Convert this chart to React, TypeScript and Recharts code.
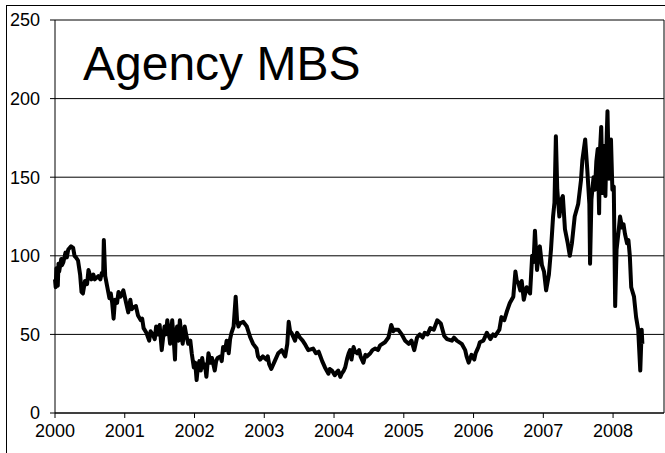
import { CartesianGrid, Line, LineChart, ReferenceLine, XAxis, YAxis } from "recharts";

// Agency MBS spread (decimal year, value)
const Y2000: [number, number][] = [
  [2000.0, 85], [2000.01, 80], [2000.02, 92], [2000.03, 84], [2000.04, 81], [2000.05, 95],
  [2000.06, 90], [2000.09, 98], [2000.1, 94], [2000.12, 96], [2000.15, 102], [2000.17, 99],
  [2000.19, 104], [2000.23, 106], [2000.26, 105], [2000.28, 100], [2000.3, 99], [2000.33, 97],
  [2000.36, 88], [2000.38, 77], [2000.4, 76], [2000.43, 84], [2000.46, 82], [2000.48, 91],
  [2000.52, 85], [2000.55, 88], [2000.57, 85], [2000.62, 87], [2000.65, 85], [2000.67, 89],
  [2000.69, 88], [2000.7, 110], [2000.72, 87], [2000.75, 80], [2000.78, 73], [2000.8, 76],
  [2000.82, 70], [2000.84, 60], [2000.86, 72], [2000.89, 70], [2000.91, 77], [2000.94, 74],
  [2000.98, 78],
];
const Y2001: [number, number][] = [
  [2001.02, 70], [2001.05, 64], [2001.08, 72], [2001.1, 66], [2001.12, 67], [2001.16, 68],
  [2001.19, 62], [2001.23, 59], [2001.25, 60], [2001.27, 54], [2001.31, 51], [2001.35, 46],
  [2001.37, 52], [2001.4, 50], [2001.43, 47], [2001.45, 55], [2001.48, 50], [2001.5, 56],
  [2001.53, 40], [2001.55, 48], [2001.57, 55], [2001.59, 50], [2001.61, 59], [2001.63, 52],
  [2001.65, 44], [2001.68, 59], [2001.7, 48], [2001.72, 34], [2001.73, 50], [2001.75, 55],
  [2001.77, 46], [2001.79, 59], [2001.81, 50], [2001.83, 44], [2001.86, 55], [2001.88, 50],
  [2001.91, 44], [2001.94, 46], [2001.96, 38], [2001.99, 29],
];
const Y2002: [number, number][] = [
  [2002.01, 32], [2002.03, 21], [2002.05, 30], [2002.07, 33], [2002.09, 27], [2002.11, 35],
  [2002.13, 29], [2002.15, 31], [2002.17, 23], [2002.2, 38], [2002.23, 32], [2002.25, 35],
  [2002.29, 27], [2002.31, 33], [2002.33, 35], [2002.37, 36], [2002.39, 33], [2002.41, 42],
  [2002.44, 40], [2002.46, 46], [2002.49, 38], [2002.51, 47], [2002.53, 51], [2002.56, 55],
  [2002.59, 74], [2002.61, 59], [2002.63, 55], [2002.65, 57], [2002.7, 58], [2002.75, 55],
  [2002.8, 48], [2002.84, 44], [2002.89, 41], [2002.91, 36], [2002.94, 34], [2002.98, 36],
];
const Y2003: [number, number][] = [
  [2003.03, 34], [2003.05, 36], [2003.07, 31], [2003.1, 28], [2003.15, 33], [2003.2, 38],
  [2003.25, 40], [2003.3, 36], [2003.33, 44], [2003.35, 58], [2003.37, 52], [2003.39, 51],
  [2003.42, 48], [2003.44, 46], [2003.47, 51], [2003.51, 48], [2003.55, 46], [2003.58, 44],
  [2003.63, 40], [2003.7, 41], [2003.74, 38], [2003.78, 39], [2003.83, 33], [2003.87, 29],
  [2003.92, 25], [2003.94, 28], [2003.97, 27],
];
const Y2004: [number, number][] = [
  [2004.01, 24], [2004.04, 26], [2004.06, 27], [2004.09, 23], [2004.11, 25], [2004.14, 27],
  [2004.16, 29], [2004.19, 35], [2004.21, 38], [2004.23, 40], [2004.25, 34], [2004.28, 42],
  [2004.3, 39], [2004.33, 38], [2004.36, 40], [2004.38, 36], [2004.42, 32], [2004.45, 37],
  [2004.47, 36], [2004.52, 38], [2004.55, 40], [2004.59, 41], [2004.63, 40], [2004.66, 43],
  [2004.73, 45], [2004.78, 48], [2004.82, 56], [2004.85, 52], [2004.87, 53], [2004.92, 53],
  [2004.97, 50],
];
const Y2005: [number, number][] = [
  [2005.02, 46], [2005.07, 44], [2005.11, 46], [2005.15, 40], [2005.19, 48], [2005.23, 50],
  [2005.27, 48], [2005.3, 51], [2005.34, 50], [2005.38, 54], [2005.43, 53], [2005.48, 59],
  [2005.53, 57], [2005.58, 49], [2005.62, 47], [2005.69, 46], [2005.72, 48], [2005.76, 46],
  [2005.83, 44], [2005.88, 40], [2005.9, 36], [2005.93, 32], [2005.97, 37],
];
const Y2006: [number, number][] = [
  [2006.01, 34], [2006.03, 38], [2006.05, 40], [2006.07, 42], [2006.09, 45], [2006.14, 46],
  [2006.19, 51], [2006.24, 47], [2006.28, 50], [2006.31, 49], [2006.37, 53], [2006.4, 61],
  [2006.44, 59], [2006.48, 65], [2006.52, 70], [2006.57, 74], [2006.6, 90], [2006.62, 84],
  [2006.64, 83], [2006.67, 78], [2006.69, 84], [2006.72, 72], [2006.76, 80], [2006.81, 76],
  [2006.84, 100], [2006.86, 96], [2006.88, 116], [2006.91, 91], [2006.93, 100], [2006.95, 106],
  [2006.98, 94],
];
const Y2007: [number, number][] = [
  [2007.01, 90], [2007.04, 78], [2007.08, 88], [2007.11, 104], [2007.14, 125], [2007.16, 134],
  [2007.18, 176], [2007.2, 142], [2007.23, 125], [2007.26, 136], [2007.28, 138], [2007.31, 117],
  [2007.35, 108], [2007.38, 100], [2007.41, 108], [2007.45, 125], [2007.5, 133], [2007.54, 148],
  [2007.56, 161], [2007.6, 174], [2007.63, 155], [2007.66, 133], [2007.67, 95], [2007.69, 136],
  [2007.72, 150], [2007.74, 142], [2007.76, 160], [2007.78, 168], [2007.8, 127], [2007.81, 165],
  [2007.83, 182], [2007.85, 140], [2007.86, 153], [2007.88, 170], [2007.89, 138], [2007.91, 178],
  [2007.92, 192], [2007.94, 149], [2007.95, 165], [2007.97, 174], [2007.99, 142],
];
const Y2008: [number, number][] = [
  [2008.01, 144], [2008.03, 68], [2008.05, 104], [2008.08, 116], [2008.1, 125], [2008.13, 118],
  [2008.15, 120], [2008.17, 114], [2008.2, 108], [2008.22, 110], [2008.24, 100], [2008.26, 80],
  [2008.3, 74], [2008.33, 61], [2008.36, 53], [2008.39, 27], [2008.41, 53], [2008.42, 44],
];

const YEAR_TICKS = [2000, 2001, 2002, 2003, 2004, 2005, 2006, 2007, 2008];
const VALUE_TICKS = [0, 50, 100, 150, 200, 250];
const X_MAX = 2008.73;

const data = [...Y2000, ...Y2001, ...Y2002, ...Y2003, ...Y2004, ...Y2005, ...Y2006, ...Y2007, ...Y2008].map(
  ([t, v]) => ({ t, v })
);

const FONT = "'Liberation Sans', Arial, sans-serif";
const tickStyle = { fill: "#000", fontSize: 18, fontFamily: FONT };

export default function App() {
  return (
    <div style={{ position: "relative", width: 665, height: 453, overflow: "hidden", background: "#fff" }}>
      <style>{`body { margin: 0; }`}</style>
      <div
        style={{
          position: "absolute",
          left: 6,
          top: 5,
          width: 700,
          height: 500,
          border: "1px solid #000",
          boxSizing: "border-box",
        }}
      />
      <div style={{ position: "absolute", left: 0, top: 0 }}>
        <LineChart width={665} height={453} data={data} margin={{ top: 20, right: 1, left: 0, bottom: 0 }}>
          <CartesianGrid vertical={false} stroke="#000" strokeWidth={1} />
          <XAxis
            type="number"
            dataKey="t"
            domain={[2000, X_MAX]}
            ticks={YEAR_TICKS}
            interval={0}
            height={40}
            tick={tickStyle}
            tickSize={5}
            tickMargin={6}
            axisLine={{ stroke: "#000" }}
            tickLine={{ stroke: "#000" }}
          />
          <YAxis
            domain={[0, 250]}
            ticks={VALUE_TICKS}
            interval={0}
            width={55}
            tick={tickStyle}
            tickSize={5}
            tickMargin={10}
            axisLine={{ stroke: "#000" }}
            tickLine={{ stroke: "#000" }}
          />
          <ReferenceLine x={X_MAX} stroke="#000" />
          <Line
            type="linear"
            dataKey="v"
            stroke="#000"
            strokeWidth={4}
            strokeLinejoin="round"
            dot={false}
            isAnimationActive={false}
          />
        </LineChart>
      </div>
      <svg
        width={665}
        height={453}
        style={{ position: "absolute", left: 0, top: 0, pointerEvents: "none" }}
      >
        <text x={83} y={80} fontSize={48} fontFamily={FONT} fill="#000">
          Agency MBS
        </text>
      </svg>
    </div>
  );
}
